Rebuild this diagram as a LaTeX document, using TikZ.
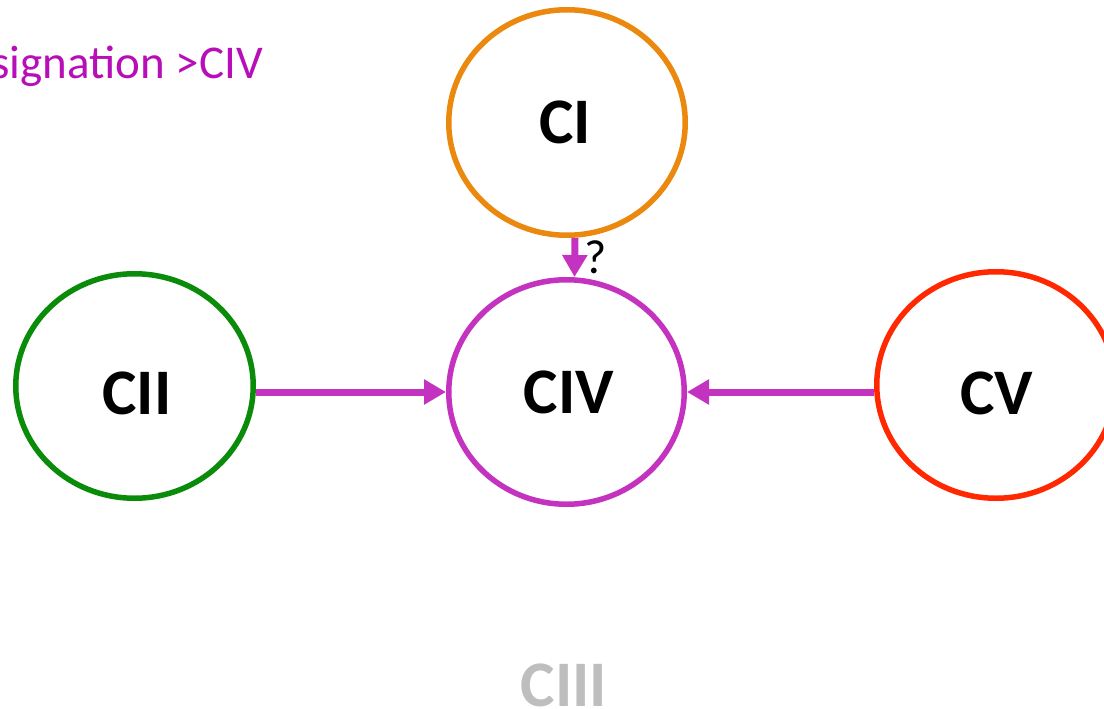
\documentclass[tikz,border=0pt]{standalone}
\usepackage{fontspec}
\setmainfont{Carlito}
\usetikzlibrary{shapes.geometric,arrows.meta}
\definecolor{cmag}{RGB}{196,50,192}
\definecolor{ctxt}{RGB}{183,14,184}
\definecolor{corange}{RGB}{235,136,14}
\definecolor{cgreen}{RGB}{10,140,10}
\definecolor{cred}{RGB}{255,40,0}
\definecolor{cgrey}{RGB}{190,190,190}
\tikzset{
  circ/.style={ellipse, draw, line width=5.5pt, inner sep=0pt, fill=white},
  lab/.style={inner sep=0pt, font=\fontsize{65}{65}\selectfont\bfseries},
  conn/.style={draw=cmag, line width=7pt, -{Triangle[length=22pt,width=24pt]}},
}
\begin{document}
\begin{tikzpicture}[x=1pt,y=-1pt]
\useasboundingbox (0,0) rectangle (1104,709);
\clip (0,0) rectangle (1104,709);
\node[anchor=base east, text=ctxt, font=\fontsize{47}{47}\selectfont, inner sep=0pt] (title) at (263,78) {signation >CIV};
\node[circ, draw=corange, minimum width=236.5pt, minimum height=225.5pt] (CI) at (567,122.5) {};
\node[circ, draw=cgreen, minimum width=237.5pt, minimum height=224.5pt] (CII) at (134.5,386) {};
\node[circ, draw=cmag, minimum width=235.5pt, minimum height=224.5pt] (CIV) at (566.5,392) {};
\node[circ, draw=cred, minimum width=238.5pt, minimum height=226.5pt] (CV) at (996,385) {};
\node[lab] (CIt) at (565,122) {CI};
\node[lab] (CIIt) at (137,393) {CII};
\node[lab] (CIVt) at (569,392) {CIV};
\node[lab] (CVt) at (997,393) {CV};
\node[lab, text=cgrey] (CIII) at (564,685) {CIII};
\node[font=\fontsize{48}{48}\selectfont, inner sep=0pt] (q) at (596,257) {?};
\draw[conn] (CII.east |- CIV.west) -- (CIV.west);
\draw[conn] (CV.west |- CIV.east) -- (CIV.east);
\draw[conn] ([xshift=8pt]CI.south) -- ([xshift=8pt]CIV.north);
\end{tikzpicture}
\end{document}
